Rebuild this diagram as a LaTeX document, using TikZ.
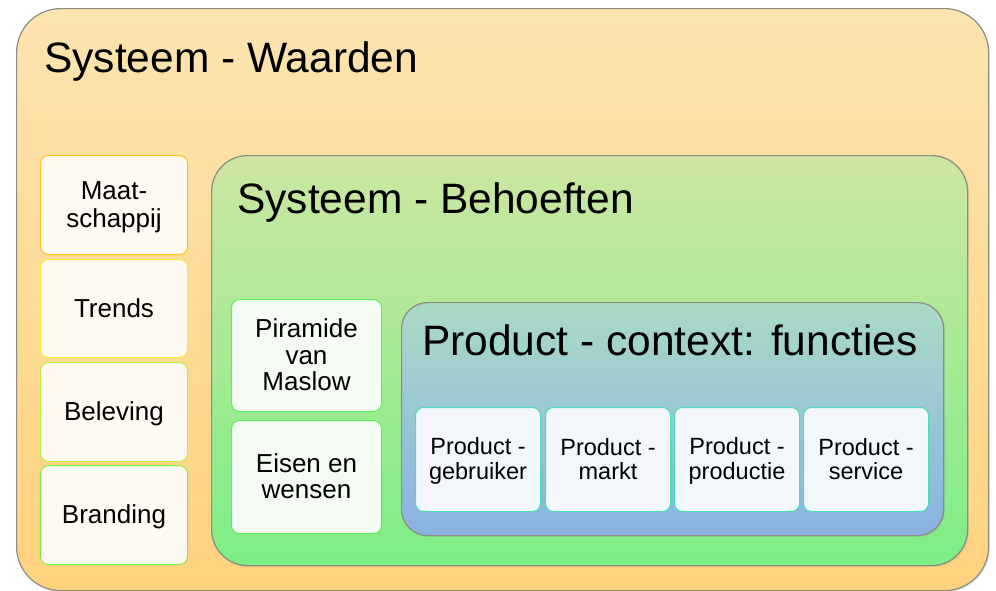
\documentclass[tikz,border=0pt]{standalone}
\usepackage{fontspec}
\setmainfont{Liberation Sans}
\usetikzlibrary{shadows}
\newcommand\lnstrut{\rule[-0.17em]{0pt}{1em}}
\definecolor{orTop}{HTML}{FCE4B0}
\definecolor{orBot}{HTML}{FFD27E}
\definecolor{grTop}{HTML}{CDE6A2}
\definecolor{grBot}{HTML}{7DEE86}
\definecolor{blTop}{HTML}{A9DAC6}
\definecolor{blBot}{HTML}{8AB2E3}
\definecolor{frame}{HTML}{8C8C84}
\definecolor{creamfill}{HTML}{FEFAF1}
\definecolor{greenfill}{HTML}{F3FBF3}
\definecolor{bluefill}{HTML}{F3F7FC}
\definecolor{bMaat}{HTML}{FFC21A}
\definecolor{bTrends}{HTML}{EEF03A}
\definecolor{bBelev}{HTML}{BCF03C}
\definecolor{bBrand}{HTML}{7EF040}
\definecolor{bGreen}{HTML}{5CF05C}
\definecolor{bTeal}{HTML}{44E0B4}
\tikzset{
  bigbox/.style={draw=frame, line width=1.2pt, anchor=north west, inner sep=0pt,
    drop shadow={opacity=0.25, shadow xshift=1.2pt, shadow yshift=-1.2pt}},
  title/.style={anchor=base west, font=\fontsize{42.5}{48}\selectfont, inner sep=0pt},
  leftbox/.style={draw, line width=1pt, fill=creamfill, rounded corners=8pt, anchor=north west,
    minimum width=147pt, align=center, font=\fontsize{26}{28}\selectfont, inner sep=0pt},
  midbox/.style={draw=bGreen, line width=1pt, fill=greenfill, rounded corners=8pt, anchor=north west,
    minimum width=150pt, minimum height=112pt, align=center, font=\fontsize{26}{26.5}\selectfont, inner sep=0pt},
  prodbox/.style={draw=bTeal, line width=1pt, fill=bluefill, rounded corners=8pt, anchor=north west,
    minimum width=125pt, minimum height=104pt, align=center, font=\fontsize{23.5}{24.5}\selectfont, inner sep=0pt}
}
\begin{document}
\begin{tikzpicture}[x=1pt,y=-1pt]
\useasboundingbox (0,0) rectangle (996,590);
% outer
\node[bigbox, top color=orTop, bottom color=orBot, rounded corners=44pt,
  minimum width=972pt, minimum height=582pt] (waarden) at (16,8) {};
\node[title] (twaarden) at (44,72) {Systeem - Waarden};
% left boxes
\node[leftbox, draw=bMaat, minimum height=99pt] (maat) at (40,155) {\lnstrut Maat-\\\lnstrut schappij};
\node[leftbox, draw=bTrends, minimum height=98pt] (trends) at (40,259) {\lnstrut Trends};
\node[leftbox, draw=bBelev, minimum height=99pt] (beleving) at (40,362) {\lnstrut Beleving};
\node[leftbox, draw=bBrand, minimum height=99pt] (branding) at (40,465) {\lnstrut Branding};
% green
\node[bigbox, top color=grTop, bottom color=grBot, rounded corners=36pt,
  minimum width=756pt, minimum height=410pt] (behoeften) at (211,155) {};
\node[title] (tbehoeften) at (237,213) {Systeem - Behoeften};
\node[midbox] (maslow) at (231,299) {\lnstrut Piramide\\\lnstrut van\\\lnstrut Maslow};
\node[midbox, minimum height=113pt] (eisen) at (231,420) {\lnstrut Eisen en\\\lnstrut wensen};
% blue
\node[bigbox, top color=blTop, bottom color=blBot, rounded corners=26pt,
  minimum width=542pt, minimum height=233pt] (context) at (401,302) {};
\node[title] (tcontext) at (422,355) {Product - context: functies};
\node[prodbox] (gebruiker) at (415,407) {\lnstrut Product -\\\lnstrut gebruiker};
\node[prodbox] (markt) at (545,407) {\lnstrut Product -\\\lnstrut markt};
\node[prodbox] (productie) at (674,407) {\lnstrut Product -\\\lnstrut productie};
\node[prodbox] (service) at (803,407) {\lnstrut Product -\\\lnstrut service};
\end{tikzpicture}
\end{document}
